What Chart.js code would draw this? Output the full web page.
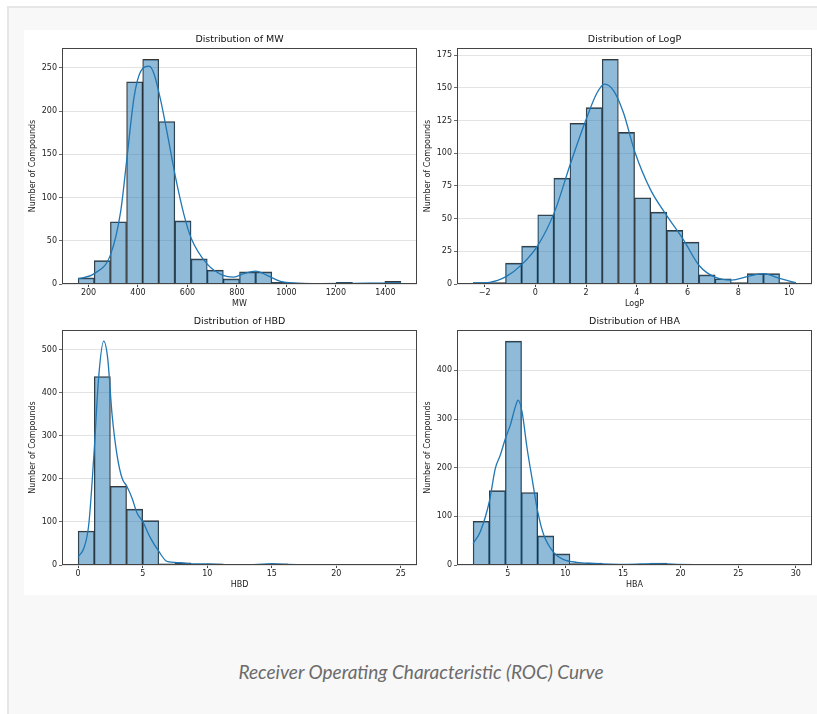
<!DOCTYPE html>
<html>
<head>
<meta charset="utf-8">
<script src="https://cdn.jsdelivr.net/npm/chart.js@4.4.1/dist/chart.umd.min.js"></script>
<style>
  body { margin: 0; background: #fff; width: 817px; height: 714px; overflow: hidden; position: relative; }
  #marco { position: absolute; left: 7px; top: 6px; right: 0; bottom: 0; background: #f8f8f8;
           border-top: 2px solid #e6e6e6; border-left: 2px solid #e6e6e6; }
  #figura { position: absolute; left: 24px; top: 30px; width: 793px; height: 565px; background: #fff; }
  canvas { position: absolute; }
  #pie { position: absolute; left: 0; width: 842px; top: 659px; line-height: 26px; text-align: center;
         font-family: Lato, sans-serif; font-style: italic; font-size: 19px; color: #6b6b6b; }
</style>
</head>
<body>
<div id="marco"></div>
<div id="figura"></div>
<canvas id="grafMW" width="396" height="285" style="left:24px;top:30px"></canvas>
<canvas id="grafLogP" width="396" height="285" style="left:419px;top:30px"></canvas>
<canvas id="grafHBD" width="396" height="284" style="left:24px;top:312px"></canvas>
<canvas id="grafHBA" width="396" height="284" style="left:419px;top:312px"></canvas>
<div id="pie">Receiver Operating Characteristic (ROC) Curve</div>

<script>
// Datos: bordes de los bins, conteos y curva KDE

// MW
const MW_EDGES = [158, 223, 288, 354, 419, 484, 549, 615, 680, 745, 810, 876, 941, 1006, 1071, 1137, 1202, 1267, 1332, 1398, 1463];
const MW_COUNTS = [7, 27, 72, 234, 260, 188, 73, 29, 16, 6, 14, 14, 2, 1, 0, 0, 2, 0, 1, 3];
const MW_KDE_X = [158, 223, 289, 330, 357, 384, 411, 445, 465, 492, 519, 552, 586, 615, 680, 744, 787, 828, 876, 922, 976, 1043, 1137, 1271, 1405, 1463];
const MW_KDE_Y = [6, 12, 34, 84, 150, 216, 246, 252, 243, 212, 173, 123, 80, 53, 23, 10, 8, 12, 15, 10, 3, 1, 0.5, 0.8, 1, 1.2];
const MW_XTICKS = [200, 400, 600, 800, 1000, 1200, 1400];
const MW_YTICKS = [0, 50, 100, 150, 200, 250];
const MW_XLIM = [92.75, 1528];
const MW_YMAX = 273;

// LogP
const LOGP_EDGES = [-2.45, -1.81, -1.18, -0.54, 0.09, 0.73, 1.36, 2.0, 2.63, 3.27, 3.91, 4.54, 5.18, 5.81, 6.45, 7.08, 7.72, 8.35, 8.99, 9.62, 10.26];
const LOGP_COUNTS = [1, 1, 16, 29, 53, 81, 123, 135, 172, 116, 66, 55, 41, 32, 7, 4, 1, 8, 8, 1];
const LOGP_KDE_X = [-2.45, -1.8, -1.16, -0.53, 0.11, 0.75, 1.38, 2.0, 2.42, 2.73, 3.08, 3.47, 3.92, 4.54, 5.19, 5.83, 6.46, 7.1, 7.73, 8.35, 8.98, 9.62, 10.26];
const LOGP_KDE_Y = [0.8, 1.3, 5.6, 15, 30, 55, 92, 126, 146, 153, 148, 131, 101, 72, 52, 34, 14, 5, 3, 5.6, 8, 4.3, 1];
const LOGP_XTICKS = [-2, 0, 2, 4, 6, 8, 10];
const LOGP_YTICKS = [0, 25, 50, 75, 100, 125, 150, 175];
const LOGP_XLIM = [-3.09, 10.9];
const LOGP_YMAX = 180.6;

// HBD
const HBD_EDGES = [0, 1.25, 2.5, 3.75, 5, 6.25, 7.5, 8.75, 10, 11.25, 12.5, 13.75, 15, 16.25, 17.5, 18.75, 20, 21.25, 22.5, 23.75, 25];
const HBD_COUNTS = [79, 438, 183, 130, 103, 3, 5, 1, 3, 0, 1, 0, 3, 0, 0, 0, 0, 0, 0, 1];
const HBD_KDE_X = [0, 0.44, 0.82, 1.21, 1.6, 1.98, 2.29, 2.63, 3.01, 3.4, 3.79, 4.18, 4.56, 5.0, 5.6, 6.24, 6.88, 7.9, 8.94, 10, 11.5, 13.6, 15, 16.2, 18.7, 21.3, 25];
const HBD_KDE_Y = [19, 39, 93, 250, 440, 520, 480, 349, 256, 202, 182, 155, 121, 101, 63, 32, 8.5, 5.4, 2.3, 2.3, 1, 1, 3, 1.5, 0.8, 0.6, 0.8];
const HBD_XTICKS = [0, 5, 10, 15, 20, 25];
const HBD_YTICKS = [0, 100, 200, 300, 400, 500];
const HBD_XLIM = [-1.25, 26.25];
const HBD_YMAX = 546;

// HBA
const HBA_EDGES = [2, 3.4, 4.8, 6.2, 7.6, 9, 10.4, 11.8, 13.2, 14.6, 16, 17.4, 18.8, 20.2, 21.6, 23, 24.4, 25.8, 27.2, 28.6, 30];
const HBA_COUNTS = [90, 153, 460, 149, 60, 23, 3, 4, 1, 1, 1, 4, 0, 1, 0, 0, 0, 0, 0, 1];
const HBA_KDE_X = [2.0, 2.63, 3.41, 3.93, 4.36, 4.8, 5.23, 5.66, 5.9, 6.24, 6.68, 7.11, 7.6, 8.12, 9.02, 9.86, 11.0, 12.46, 13.9, 15.35, 17.66, 19.68, 22.57, 25.46, 30];
const HBA_KDE_Y = [44, 69, 131, 199, 226, 260, 288, 325, 339, 315, 240, 178, 110, 62, 25, 11, 5.5, 3.4, 2, 1.4, 2.7, 1.4, 0.7, 0.7, 0.8];
const HBA_XTICKS = [5, 10, 15, 20, 25, 30];
const HBA_YTICKS = [0, 100, 200, 300, 400];
const HBA_XLIM = [0.6, 31.4];
const HBA_YMAX = 483;

Chart.defaults.font.family = "'DejaVu Sans', sans-serif";
Chart.defaults.color = '#222';

// Dibuja el recuadro completo del eje (estilo matplotlib)
const recuadro = {
  id: 'recuadro',
  afterDatasetsDraw(chart) {
    const { ctx, chartArea: a } = chart;
    ctx.save();
    ctx.strokeStyle = '#444';
    ctx.lineWidth = 1;
    const l = Math.round(a.left) + 0.5, t = Math.round(a.top) + 0.5;
    const r = Math.round(a.right) - 0.5, b = Math.round(a.bottom) - 0.5;
    ctx.strokeRect(l, t, r - l, b - t);
    ctx.restore();
  }
};

// Crea un histograma con su curva KDE
function crearHistograma(id, titulo, etiquetaX, edges, counts, kdeX, kdeY, xticks, yticks, xlim, ymax) {
  const centros = edges.slice(0, -1).map((e, i) => (e + edges[i + 1]) / 2);
  const barras = centros.map((c, i) => ({ x: c, y: counts[i] }));
  const curva = kdeX.map((x, i) => ({ x: x, y: kdeY[i] }));

  return new Chart(document.getElementById(id), {
    type: 'bar',
    data: {
      datasets: [
        {
          type: 'line',
          data: curva,
          borderColor: '#1f77b4',
          borderWidth: 1.3,
          pointRadius: 0,
          cubicInterpolationMode: 'monotone',
          order: 0
        },
        {
          type: 'bar',
          data: barras,
          backgroundColor: 'rgba(31,119,180,0.5)',
          borderColor: 'rgba(20,20,20,0.85)',
          borderWidth: { top: 1, left: 0.7, right: 0.7, bottom: 0 },
          borderSkipped: false,
          barPercentage: 1,
          categoryPercentage: 1,
          order: 1
        }
      ]
    },
    options: {
      responsive: false,
      animation: false,
      devicePixelRatio: 1,
      layout: { padding: { right: 3 } },
      plugins: {
        legend: { display: false },
        tooltip: { enabled: false },
        title: {
          display: true,
          text: titulo,
          fullSize: false,
          color: '#111',
          font: { size: 9.5, weight: 'normal' },
          padding: { top: 4.3, bottom: 2.3 }
        }
      },
      scales: {
        x: {
          type: 'linear',
          min: xlim[0],
          max: xlim[1],
          offset: false,
          afterBuildTicks: (ax) => { ax.ticks = xticks.map(v => ({ value: v })); },
          afterFit: (s) => { s.height = 31; },
          ticks: {
            autoSkip: false,
            maxRotation: 0,
            padding: 1,
            font: { size: 8 },
            callback: (v) => String(v).replace('-', '\u2212')
          },
          grid: { offset: false, drawOnChartArea: false, tickLength: 3, tickColor: '#444' },
          border: { display: false },
          title: { display: true, text: etiquetaX, font: { size: 8 }, padding: { top: 0, bottom: 6.7 } }
        },
        y: {
          min: 0,
          max: ymax,
          afterBuildTicks: (ax) => { ax.ticks = yticks.map(v => ({ value: v })); },
          afterFit: (s) => { s.width = 38; },
          ticks: { padding: 2, font: { size: 8 } },
          grid: { color: '#dcdcdc', lineWidth: 0.8, tickLength: 3, tickColor: '#444' },
          border: { display: false },
          title: { display: true, text: 'Number of Compounds', font: { size: 8 }, padding: { top: 4.2, bottom: 0 } }
        }
      }
    },
    plugins: [recuadro]
  });
}

crearHistograma('grafMW', 'Distribution of MW', 'MW', MW_EDGES, MW_COUNTS, MW_KDE_X, MW_KDE_Y, MW_XTICKS, MW_YTICKS, MW_XLIM, MW_YMAX);
crearHistograma('grafLogP', 'Distribution of LogP', 'LogP', LOGP_EDGES, LOGP_COUNTS, LOGP_KDE_X, LOGP_KDE_Y, LOGP_XTICKS, LOGP_YTICKS, LOGP_XLIM, LOGP_YMAX);
crearHistograma('grafHBD', 'Distribution of HBD', 'HBD', HBD_EDGES, HBD_COUNTS, HBD_KDE_X, HBD_KDE_Y, HBD_XTICKS, HBD_YTICKS, HBD_XLIM, HBD_YMAX);
crearHistograma('grafHBA', 'Distribution of HBA', 'HBA', HBA_EDGES, HBA_COUNTS, HBA_KDE_X, HBA_KDE_Y, HBA_XTICKS, HBA_YTICKS, HBA_XLIM, HBA_YMAX);
</script>
</body>
</html>
